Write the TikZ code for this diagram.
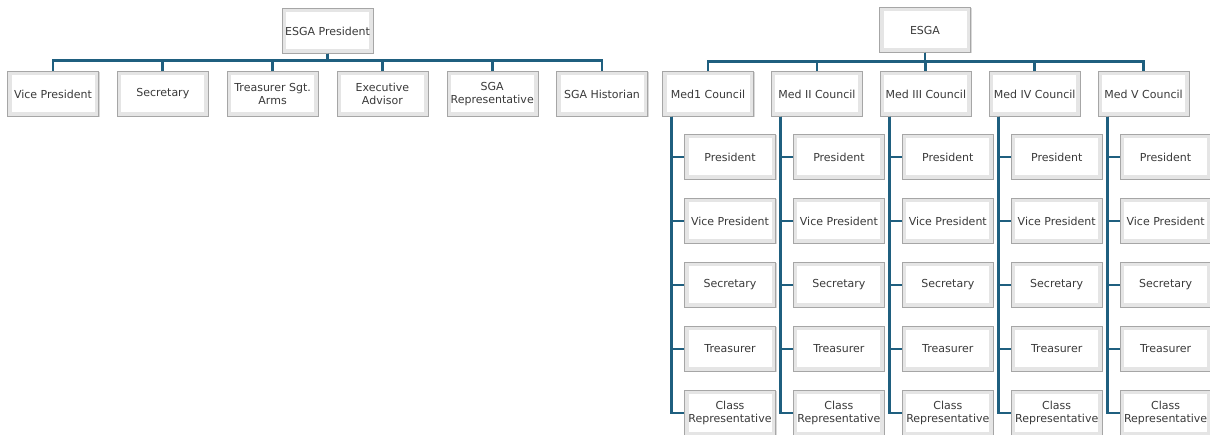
\documentclass[tikz,border=0pt]{standalone}
\usepackage{fontspec}
\setmainfont{DejaVu Sans}
\usetikzlibrary{shadows}
\definecolor{linkblue}{HTML}{1F5F7F}
\definecolor{txtgray}{HTML}{3A3A3A}

\begin{document}
\begin{tikzpicture}[x=1pt, y=-1pt,
    box/.style={draw=gray!70, fill=gray!20, minimum width=91pt, minimum height=45pt,
      inner sep=1pt, align=center, text=txtgray, font=\fontsize{11}{12.5}\selectfont,
      drop shadow={opacity=.3, shadow xshift=1pt, shadow yshift=-1pt},
      path picture={\fill[white] ([shift={(4pt,4pt)}]path picture bounding box.south west)
        rectangle ([shift={(-4pt,-4pt)}]path picture bounding box.north east);}},
    link/.style={draw=linkblue, line width=2.8pt}]
  \useasboundingbox (0,0) rectangle (1210,435);

  \def\gap{109.8}
  \def\bar{7}

  % left chart
  \node [box] (pres) at (327.5,31) {ESGA President};
  \foreach \name [count=\i from 0] in {Vice President, Secretary, {Treasurer Sgt.\\Arms},
      {Executive\\Advisor}, {SGA\\Representative}, SGA Historian} {
    \node [box] (off\i) at (53+\gap*\i,94) {\name};
    \draw [link] (pres.south) -- ++(0,\bar) -| (off\i.north);
  }

  % right chart
  \node [box] (esga) at (925,30) {ESGA};
  \foreach \med [count=\i from 0] in {Med1 Council, Med II Council, Med III Council,
      Med IV Council, Med V Council} {
    \node [box] (med\i) at (708+108.9*\i,94) {\med};
    \draw [link] (esga.south) -- ++(0,8.5) -| (med\i.north);
    \foreach \role [count=\j from 0] in {President, Vice President, Secretary, Treasurer,
        {Class\\Representative}} {
      \node [box] (m\i\j) at (730+108.9*\i,157+64*\j) {\role};
      \draw [link] ([xshift=9.5pt]med\i.south west) |- (m\i\j.west);
    }
  }
\end{tikzpicture}
\end{document}
